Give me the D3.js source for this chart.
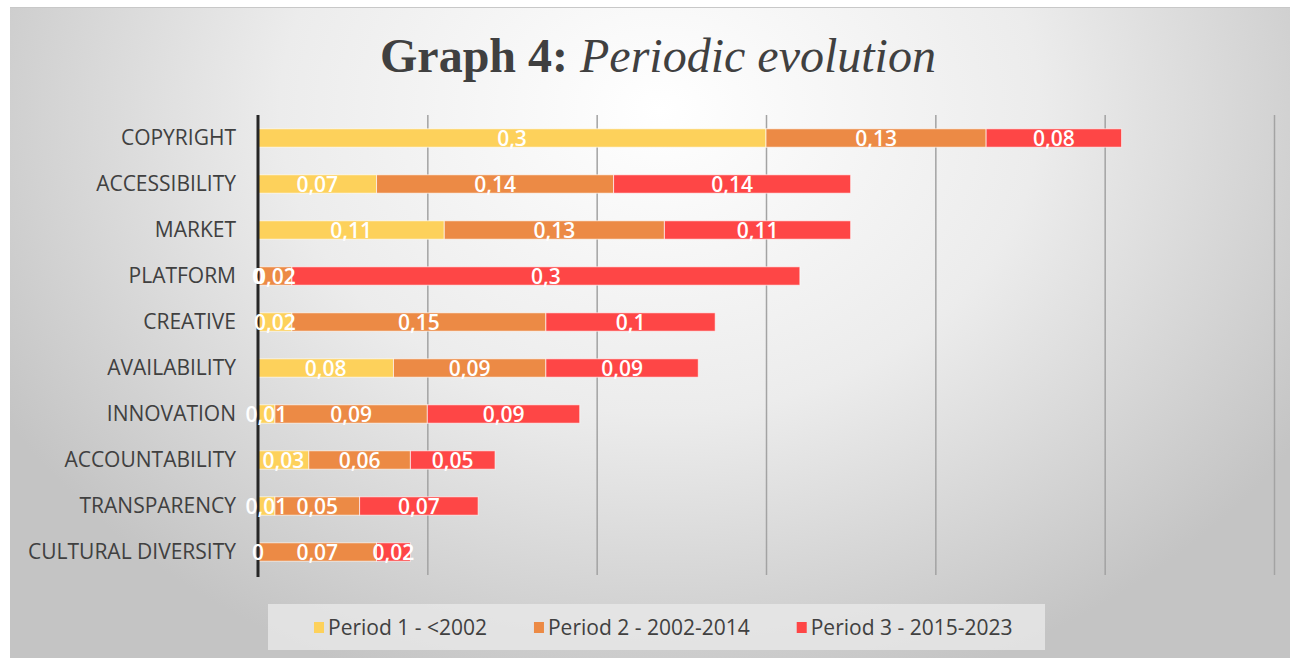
<!DOCTYPE html>
<html>
<head>
<meta charset="utf-8">
<script src="https://cdn.jsdelivr.net/npm/d3@7"></script>
<style>
  html, body { margin: 0; padding: 0; background: #fff; }
  svg { display: block; }
</style>
</head>
<body>
<script>
var categories = ["COPYRIGHT", "ACCESSIBILITY", "MARKET", "PLATFORM", "CREATIVE",
  "AVAILABILITY", "INNOVATION", "ACCOUNTABILITY", "TRANSPARENCY", "CULTURAL DIVERSITY"];
var period1 = [0.3, 0.07, 0.11, 0, 0.02, 0.08, 0.01, 0.03, 0.01, 0];
var period2 = [0.13, 0.14, 0.13, 0.02, 0.15, 0.09, 0.09, 0.06, 0.05, 0.07];
var period3 = [0.08, 0.14, 0.11, 0.3, 0.1, 0.09, 0.09, 0.05, 0.07, 0.02];
var seriesNames = ["Period 1 - <2002", "Period 2 - 2002-2014", "Period 3 - 2015-2023"];
var xTicks = [0.1, 0.2, 0.3, 0.4, 0.5, 0.6];

var colors = ["#fdd15b", "#ec8a45", "#fe4646"];

var w = 1290, h = 658;

var svg = d3.select("body").append("svg")
  .attr("width", w)
  .attr("height", h);

var defs = svg.append("defs");
var grad = defs.append("radialGradient")
  .attr("id", "bg")
  .attr("gradientUnits", "userSpaceOnUse")
  .attr("cx", 660).attr("cy", 110)
  .attr("r", 760)
  .attr("gradientTransform", "translate(660,110) scale(1,0.8) translate(-660,-110)");
grad.append("stop").attr("offset", "0%").attr("stop-color", "#ffffff");
grad.append("stop").attr("offset", "50%").attr("stop-color", "#ececec");
grad.append("stop").attr("offset", "100%").attr("stop-color", "#c4c4c4");

// chart area background
svg.append("rect")
  .attr("x", 10).attr("y", 7)
  .attr("width", w - 10).attr("height", h - 7)
  .attr("fill", "url(#bg)");
svg.append("line")
  .attr("x1", 10).attr("x2", w)
  .attr("y1", 7.5).attr("y2", 7.5)
  .attr("stroke", "#c8c8c8");

// title
var title = svg.append("text")
  .attr("x", 658)
  .attr("y", 72)
  .attr("text-anchor", "middle")
  .style("font-family", "'Liberation Serif', 'Times New Roman', serif")
  .style("font-size", "48px")
  .attr("fill", "#404040");
title.append("tspan").style("font-weight", "bold").text("Graph 4: ");
title.append("tspan").style("font-style", "italic").text("Periodic evolution");

var x = d3.scaleLinear()
  .domain([0, 0.6])
  .range([258, 1274]);

var y = d3.scaleBand()
  .domain(categories)
  .range([115, 575])
  .paddingInner(0.6)
  .paddingOuter(0.3);

// gridlines
var grid = svg.append("g")
  .attr("transform", "translate(0,575)")
  .call(d3.axisBottom(x).tickValues(xTicks).tickSize(-460).tickFormat(""));
grid.select(".domain").remove();
grid.selectAll("line")
  .attr("stroke", "#a3a3a3")
  .attr("stroke-width", 1.5);

// stack
var rows = categories.map(function (c, i) {
  return { cat: c, p1: period1[i], p2: period2[i], p3: period3[i] };
});
var stack = d3.stack().keys(["p1", "p2", "p3"]);
var series = stack(rows);

var layers = svg.append("g")
  .selectAll("g")
  .data(series)
  .join("g")
  .attr("fill", function (d, i) { return colors[i]; });

layers.selectAll("rect")
  .data(function (d) { return d; })
  .join("rect")
  .attr("x", function (d) { return x(d[0]); })
  .attr("y", function (d) { return y(d.data.cat); })
  .attr("width", function (d) { return x(d[1]) - x(d[0]); })
  .attr("height", y.bandwidth())
  .attr("stroke", "rgba(255,255,255,0.65)")
  .attr("stroke-width", 1);

// category axis
var yAxis = svg.append("g")
  .attr("transform", "translate(258,0)")
  .call(d3.axisLeft(y).tickSize(0).tickPadding(22));
yAxis.select(".domain").remove();
yAxis.selectAll("text")
  .style("font-family", "'Open Sans', sans-serif")
  .style("font-size", "21px")
  .attr("fill", "#404040");

svg.append("line")
  .attr("x1", x(0)).attr("x2", x(0))
  .attr("y1", 115).attr("y2", 577)
  .attr("stroke", "#262626")
  .attr("stroke-width", 3);

// value labels
var labelLayers = svg.append("g")
  .selectAll("g")
  .data(series)
  .join("g");

labelLayers.selectAll("text")
  .data(function (d) { return d; })
  .join("text")
  .attr("x", function (d) { return (x(d[0]) + x(d[1])) / 2; })
  .attr("y", function (d) { return y(d.data.cat) + y.bandwidth() / 2; })
  .attr("dy", "0.36em")
  .attr("text-anchor", "middle")
  .style("font-family", "'Open Sans', sans-serif")
  .style("font-size", "21px")
  .style("font-weight", "600")
  .attr("fill", "#ffffff")
  .text(function (d) { return String(+(d[1] - d[0]).toFixed(2)).replace(".", ","); });

// legend
var legend = svg.append("g");
legend.append("rect")
  .attr("x", 268).attr("y", 604)
  .attr("width", 777).attr("height", 46)
  .attr("fill", "#e8e8e8")
  .attr("opacity", 0.8);

var lx = 314;
seriesNames.forEach(function (name, i) {
  legend.append("rect")
    .attr("x", lx).attr("y", 622)
    .attr("width", 10).attr("height", 11)
    .attr("fill", colors[i]);
  var t = legend.append("text")
    .attr("x", lx + 14)
    .attr("y", 635)
    .style("font-family", "'Open Sans', sans-serif")
    .style("font-size", "21px")
    .attr("fill", "#404040")
    .text(name);
  lx = lx + 14 + t.node().getComputedTextLength() + 47;
});
</script>
</body>
</html>
